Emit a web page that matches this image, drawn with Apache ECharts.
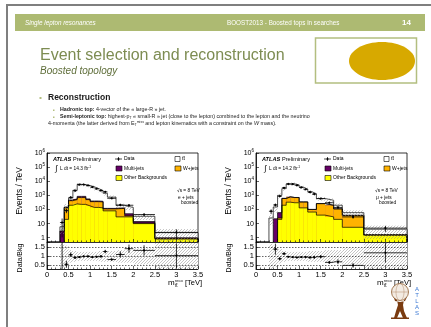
<!DOCTYPE html>
<html>
<head>
<meta charset="utf-8">
<script src="https://cdn.jsdelivr.net/npm/echarts@6/dist/echarts.min.js"></script>
<style>
html,body{margin:0;padding:0;background:#fff;}
#c{width:431px;height:327px;}
</style>
</head>
<body>
<div id="c"></div>
<script>
// Reconstructed m_tt bin edges (TeV)
const binEdges = [0.3, 0.4, 0.5, 0.6, 0.7, 0.8, 0.9, 1.0, 1.1, 1.2, 1.3, 1.4, 1.6, 1.8, 2.0, 2.5, 3.5];
const xTicks = [0, 0.5, 1, 1.5, 2, 2.5, 3, 3.5];
const ratioTicks = [0.5, 1, 1.5];

// e + jets, boosted (Events / TeV)
const eOther    = [0, 20, 200, 250, 230, 230, 180, 140, 140, 130, 80, 80, 30, 30, 10, 0.8];
const eWjets    = [0, 110, 220, 250, 470, 470, 320, 220, 220, 210, 30, 30, 90, 6, 1, 0.1];
const eMultijet = [3, 10, 50, 60, 150, 150, 60, 40, 40, 40, 10, 10, 10, 14, 3, 0.1];
const eTtbar    = [3, 10, 180, 1740, 5150, 4950, 4440, 3600, 2600, 1820, 1280, 630, 60, 90, 19, 1.3];
const eData     = [12, 84, 710, 2140, 5760, 5800, 5000, 3840, 2940, 2200, 1780, 620, 210, 200, 44, 2.4];
const eSyst     = [0.7, 0.6, 0.35, 0.3, 0.25, 0.25, 0.25, 0.25, 0.25, 0.3, 0.3, 0.3, 0.35, 0.35, 0.45, 0.8];

// mu + jets, boosted (Events / TeV)
const mOther    = [0, 0, 20, 200, 330, 300, 300, 130, 130, 66, 66, 40, 30, 20, 5.5, 1.5];
const mWjets    = [0, 0, 5, 400, 450, 400, 400, 210, 210, 34, 34, 220, 170, 90, 32.5, 0.1];
const mMultijet = [0, 22, 35, 20, 20, 10, 10, 5, 5, 2, 2, 2, 2, 2, 1, 0.05];
const mTtbar    = [25, 128, 940, 2380, 5700, 5790, 4790, 3455, 2455, 1698, 1198, 338, 248, 88, 21, 2.35];
const mData     = [75, 210, 870, 3450, 6370, 6240, 5170, 3650, 2690, 1690, 1235, 590, 300, 140, 30, 4.8];
const mSyst     = [0.7, 0.6, 0.4, 0.3, 0.25, 0.25, 0.25, 0.25, 0.25, 0.3, 0.3, 0.3, 0.35, 0.35, 0.45, 0.8];

const FONT = 'Liberation Sans';
const Y_FLOOR = 0.5;
const R_MIN = 0.3, R_MAX = 1.8;
const COL = { other: '#ffff00', wjets: '#ffb300', multijet: '#660066', ttbar: '#ffffff' };
const HATCH_STEP = 3;

function addArr(a, b) { return a.map((v, i) => v + b[i]); }

// diagonal hatch lines filling a screen rectangle
function hatchLines(X0, Y0, W, H) {
  const kids = [];
  const cStart = Math.ceil((X0 + Y0) / HATCH_STEP) * HATCH_STEP;
  for (let c = cStart; c <= X0 + W + Y0 + H; c += HATCH_STEP) {
    const xa = Math.max(X0, c - Y0 - H), xb = Math.min(X0 + W, c - Y0);
    if (xb <= xa) continue;
    kids.push({ type: 'line', shape: { x1: xa, y1: c - xa, x2: xb, y2: c - xb },
                style: { stroke: '#8a8a8a', lineWidth: 0.5 } });
  }
  return kids;
}

// step outline for a histogram layer
function stepPoints(vals) {
  const pts = [];
  let started = false;
  for (let i = 0; i < vals.length; i++) {
    if (!started) {
      if (vals[i] <= 0) continue;
      started = true;
      pts.push([binEdges[i], Y_FLOOR]);
    }
    pts.push([binEdges[i], vals[i]]);
  }
  pts.push([binEdges[binEdges.length - 1], vals[vals.length - 1]]);
  pts.push([binEdges[binEdges.length - 1], Y_FLOOR]);
  return pts;
}

// filled bin: [x0, x1, top]
function fillRender(color) {
  return function (params, api) {
    const top = api.value(2);
    if (!(top > 0)) return null;
    const a = api.coord([api.value(0), top]);
    const b = api.coord([api.value(1), Y_FLOOR]);
    return { type: 'rect', shape: { x: a[0], y: a[1], width: b[0] - a[0], height: b[1] - a[1] },
             style: { fill: color, stroke: null } };
  };
}

// uncertainty band: [x0, x1, lo, hi]
function bandRender(params, api) {
  const a = api.coord([api.value(0), api.value(3)]);
  const b = api.coord([api.value(1), api.value(2)]);
  return { type: 'group', children: hatchLines(a[0], a[1], b[0] - a[0], b[1] - a[1]) };
}

// opaque panel background for the ratio pad
function padRender(params, api) {
  const a = api.coord([api.value(0), api.value(3)]);
  const b = api.coord([api.value(1), api.value(2)]);
  return { type: 'rect', shape: { x: a[0], y: a[1], width: b[0] - a[0], height: b[1] - a[1] },
           style: { fill: '#fff', stroke: null } };
}

function pointRender(params, api) {
  const xc = api.value(0), x0 = api.value(1), x1 = api.value(2);
  const v = api.value(3), lo = api.value(4), hi = api.value(5);
  const p = api.coord([xc, v]);
  const pl = api.coord([x0, v]), pr = api.coord([x1, v]);
  const pLo = api.coord([xc, lo]), pHi = api.coord([xc, hi]);
  return { type: 'group', children: [
    { type: 'line', shape: { x1: pl[0], y1: pl[1], x2: pr[0], y2: pr[1] }, style: { stroke: '#000', lineWidth: 0.8 } },
    { type: 'line', shape: { x1: pLo[0], y1: pLo[1], x2: pHi[0], y2: pHi[1] }, style: { stroke: '#000', lineWidth: 0.8 } },
    { type: 'circle', shape: { cx: p[0], cy: p[1], r: 1.1 }, style: { fill: '#000' } }
  ] };
}

function buildSeries(axTop, axRatio, other, wjets, multi, ttbar, data, syst) {
  const cOther = other;
  const cW = addArr(cOther, wjets);
  const cMJ = addArr(cW, multi);
  const cTot = addArr(cMJ, ttbar);
  const n = cTot.length;
  const layers = [
    [cTot, COL.ttbar], [cMJ, COL.multijet], [cW, COL.wjets], [cOther, COL.other]
  ];
  const out = [];
  layers.forEach(([vals, col]) => {
    out.push({
      type: 'custom', xAxisIndex: axTop, yAxisIndex: axTop, renderItem: fillRender(col), clip: true, z: 2,
      encode: { x: [0, 1], y: 2 },
      data: vals.map((v, i) => [binEdges[i], binEdges[i + 1], v])
    });
  });
  layers.forEach(([vals]) => {
    out.push({
      type: 'line', xAxisIndex: axTop, yAxisIndex: axTop, step: 'end', symbol: 'none',
      data: stepPoints(vals), clip: true, z: 2,
      lineStyle: { color: '#000', width: 0.7 }
    });
  });
  const bandTop = [], bandRatio = [], ptsTop = [], ptsRatio = [];
  for (let i = 0; i < n; i++) {
    const x0 = binEdges[i], x1 = binEdges[i + 1], xc = (x0 + x1) / 2, w = x1 - x0;
    bandTop.push([x0, x1, cTot[i] * (1 - syst[i]), cTot[i] * (1 + syst[i])]);
    bandRatio.push([x0, x1, Math.max(1 - syst[i], R_MIN), Math.min(1 + syst[i], R_MAX)]);
    const err = Math.sqrt(data[i] / w);
    ptsTop.push([xc, x0, x1, data[i], Math.max(data[i] - err, 0.01), data[i] + err]);
    const r = data[i] / cTot[i], re = err / cTot[i];
    ptsRatio.push([xc, x0, x1, r, r - re, r + re]);
  }
  out.push({ type: 'custom', xAxisIndex: axTop, yAxisIndex: axTop, renderItem: bandRender, clip: true, z: 3,
             encode: { x: [0, 1], y: [2, 3] }, data: bandTop });
  out.push({ type: 'custom', xAxisIndex: axTop, yAxisIndex: axTop, renderItem: pointRender, clip: true, z: 4,
             encode: { x: [0, 1, 2], y: [3, 4, 5] }, data: ptsTop });
  out.push({ type: 'custom', xAxisIndex: axRatio, yAxisIndex: axRatio, renderItem: padRender, clip: true, z: 2.9,
             encode: { x: [0, 1], y: [2, 3] }, data: [[0, 3.5, R_MIN, R_MAX]] });
  out.push({ type: 'custom', xAxisIndex: axRatio, yAxisIndex: axRatio, renderItem: bandRender, clip: true, z: 3,
             encode: { x: [0, 1], y: [2, 3] }, data: bandRatio });
  out.push({ type: 'custom', xAxisIndex: axRatio, yAxisIndex: axRatio, renderItem: pointRender, clip: true, z: 4,
             encode: { x: [0, 1, 2], y: [3, 4, 5] }, data: ptsRatio,
             markLine: { silent: true, symbol: 'none', label: { show: false }, animation: false,
                         lineStyle: { color: '#000', type: [1.5, 1.5], width: 0.6 },
                         data: ratioTicks.map(v => ({ yAxis: v })) } });
  return out;
}

const tickLine = { color: '#000', width: 0.6 };
function xAxisCfg(grid, labels) {
  return {
    type: 'value', gridIndex: grid, min: 0, max: 3.5, interval: 0.5, z: 6,
    axisLine: { show: true, onZero: false, lineStyle: { color: '#000', width: 0.8 } },
    axisTick: { show: true, inside: true, length: 3, lineStyle: tickLine },
    minorTick: { show: true, splitNumber: 5, length: 1.5, lineStyle: tickLine },
    splitLine: { show: false },
    axisLabel: { show: labels, color: '#000', fontFamily: FONT, fontSize: 7.5, margin: 2,
                 formatter: v => (xTicks.indexOf(v) >= 0 ? String(v) : '') }
  };
}
function yLogCfg(grid) {
  return {
    type: 'log', logBase: 10, gridIndex: grid, min: Y_FLOOR, max: 1e6, z: 6,
    axisLine: { show: true, lineStyle: { color: '#000', width: 0.8 } },
    axisTick: { show: true, inside: true, length: 3, lineStyle: tickLine },
    splitLine: { show: false },
    axisLabel: {
      color: '#000', fontFamily: FONT, fontSize: 7, margin: 2, lineHeight: 9,
      formatter: v => {
        const e = Math.round(Math.log10(v));
        if (Math.abs(Math.pow(10, e) - v) > 1e-6 * v) return '';
        if (e === 0) return '1';
        if (e === 1) return '10';
        return '10{s|' + e + '}';
      },
      rich: { s: { fontFamily: FONT, fontSize: 4.5, verticalAlign: 'top', lineHeight: 9, color: '#000' } }
    }
  };
}
function yRatioCfg(grid) {
  return {
    type: 'value', gridIndex: grid, min: R_MIN, max: R_MAX, z: 6,
    axisLine: { show: true, lineStyle: { color: '#000', width: 0.8 } },
    axisTick: { show: true, inside: true, length: 3, lineStyle: tickLine, customValues: ratioTicks },
    splitLine: { show: false },
    axisLabel: { color: '#000', fontFamily: FONT, fontSize: 7.5, margin: 2, customValues: ratioTicks,
                 formatter: v => String(v) }
  };
}

const gridBox = { show: true, borderColor: '#000', borderWidth: 0.8, backgroundColor: '#fff' };
const grids = [
  Object.assign({ left: 47, top: 153, width: 151, height: 89 }, gridBox),
  Object.assign({ left: 47, top: 242, width: 151, height: 27 }, gridBox),
  Object.assign({ left: 256, top: 153, width: 151, height: 89 }, gridBox),
  Object.assign({ left: 256, top: 242, width: 151, height: 27 }, gridBox)
];

// slide decoration and plot annotations
const G = [];
function txt(x, y, text, o) {
  o = o || {};
  G.push({ type: 'text', x: x, y: y, rotation: o.rot || 0, z: 10,
    style: Object.assign({ text: text, fill: o.fill || '#000', fontFamily: FONT, fontSize: o.size || 6,
      fontWeight: o.weight || 'normal', fontStyle: o.style || 'normal',
      align: o.align || 'left', verticalAlign: o.va || 'middle' }, o.rich ? { rich: o.rich } : {}) });
}
function rect(x, y, w, h, fill, stroke, lw) {
  G.push({ type: 'rect', z: 10, shape: { x: x, y: y, width: w, height: h },
           style: { fill: fill, stroke: stroke || null, lineWidth: lw || 0.6 } });
}

rect(6, 4, 425, 2, '#7f7f7f');
rect(6, 4, 2, 323, '#7f7f7f');
rect(15, 14, 410, 17, '#adba72');
txt(25, 23, 'Single lepton resonances', { fill: '#fff', size: 6.3, style: 'italic' });
txt(227, 23, 'BOOST2013 - Boosted tops in searches', { fill: '#fff', size: 6.3 });
txt(402, 22.5, '14', { fill: '#fff', size: 8, weight: 'bold' });
txt(40, 56, 'Event selection and reconstruction', { fill: '#7d8c52', size: 16 });
txt(40, 71, 'Boosted topology', { fill: '#5f6e3a', size: 10, style: 'italic' });
rect(315.5, 38, 101, 45, '#fff', '#b3be80', 1.5);
G.push({ type: 'ellipse', z: 11, shape: { cx: 382, cy: 61, rx: 33, ry: 19 }, style: { fill: '#d7a900' } });
txt(382, 51, 'BOOSTED', { fill: '#fff', size: 3.5, weight: 'bold', align: 'center' });

rect(39.5, 97, 2, 2, '#b3be80');
txt(48, 98, 'Reconstruction', { fill: '#1a1a1a', size: 8.5, weight: 'bold' });
const lineRich = {
  b: { fontFamily: FONT, fontSize: 5.3, fontWeight: 'bold', fill: '#222' },
  sub: { fontFamily: FONT, fontSize: 3.5, verticalAlign: 'bottom', lineHeight: 7, fill: '#222' },
  sup: { fontFamily: FONT, fontSize: 3.5, verticalAlign: 'top', lineHeight: 7, fill: '#222' },
  i: { fontFamily: FONT, fontSize: 5.3, fontStyle: 'italic', fill: '#222' }
};
rect(53, 109.5, 1.5, 1.5, '#b3be80');
txt(60, 110, '{b|Hadronic top:} 4-vector of the \u00ab large-R \u00bb jet.', { fill: '#222', size: 5.3, rich: lineRich });
rect(53, 116.5, 1.5, 1.5, '#b3be80');
txt(60, 117, '{b|Semi-leptonic top:} highest-p{sub|T} \u00ab small-R \u00bb jet (close to the lepton) combined to the lepton and the neutrino',
    { fill: '#222', size: 5.3, rich: lineRich });
txt(48, 123.5, '4-momenta (the latter derived from E{sub|T}{sup|miss} and lepton kinematics with a constraint on the {i|W} mass).',
    { fill: '#222', size: 5.3, rich: lineRich });

// per-panel annotations
function panelText(ox, lumi, channel, sx) {
  txt(ox + 53, 159, 'ATLAS', { size: 5.6, weight: 'bold', style: 'italic' });
  txt(ox + 73, 159, 'Preliminary', { size: 5.6 });
  txt(ox + 55, 169, '\u222b', { size: 8 });
  txt(ox + 60, 168.5, 'L dt = ' + lumi + ' fb{s|-1}', { size: 4.8,
      rich: { s: { fontFamily: FONT, fontSize: 3.2, verticalAlign: 'top', lineHeight: 6 } } });
  // legend
  G.push({ type: 'line', z: 10, shape: { x1: ox + 115, y1: 159, x2: ox + 122, y2: 159 }, style: { stroke: '#000', lineWidth: 0.7 } });
  G.push({ type: 'line', z: 10, shape: { x1: ox + 118.5, y1: 157, x2: ox + 118.5, y2: 161 }, style: { stroke: '#000', lineWidth: 0.7 } });
  G.push({ type: 'circle', z: 10, shape: { cx: ox + 118.5, cy: 159, r: 1 }, style: { fill: '#000' } });
  txt(ox + 124, 159, 'Data', { size: 5 });
  rect(ox + 175, 156.5, 5, 5, '#fff', '#000', 0.6);
  txt(ox + 182, 159, 't\u0074\u0304', { size: 5 });
  rect(ox + 116, 166, 6, 5, COL.multijet, '#000', 0.6);
  txt(ox + 124, 168.5, 'Multi-jets', { size: 5 });
  rect(ox + 175, 166, 6, 5, COL.wjets, '#000', 0.6);
  txt(ox + 183, 168.5, 'W+jets', { size: 5 });
  rect(ox + 116, 175.5, 6, 5, COL.other, '#000', 0.6);
  txt(ox + 124, 178, 'Other Backgrounds', { size: 5 });
  txt(ox + sx, 190.5, '\u221as = 8 TeV', { size: 4.8 });
  txt(ox + sx + 1, 197.5, channel, { size: 4.8 });
  txt(ox + sx + 4, 203, 'boosted', { size: 4.8 });
  // axis titles
  txt(ox + 20, 191, 'Events / TeV', { size: 8.5, rot: Math.PI / 2, align: 'center' });
  txt(ox + 20, 258, 'Data/Bkg', { size: 7, rot: Math.PI / 2, align: 'center' });
  txt(ox + 168, 283, 'm', { size: 8 });
  txt(ox + 175, 280.5, 'reco', { size: 4 });
  txt(ox + 175, 286, 't\u0074\u0304', { size: 4.5 });
  txt(ox + 185, 283, '[TeV]', { size: 7.5 });
}
panelText(0, '14.3', 'e + jets', 177);
panelText(209, '14.2', '\u03bc + jets', 166);

// ATLAS logo (globe bearer)
G.push({ type: 'circle', z: 12, shape: { cx: 400, cy: 292, r: 8.5 }, style: { fill: '#f3ebe2', stroke: '#8b5a2b', lineWidth: 0.8 } });
G.push({ type: 'ellipse', z: 12, shape: { cx: 400, cy: 292, rx: 4, ry: 8.5 }, style: { fill: null, stroke: '#b08a6a', lineWidth: 0.5 } });
G.push({ type: 'line', z: 12, shape: { x1: 391.5, y1: 292, x2: 408.5, y2: 292 }, style: { stroke: '#b08a6a', lineWidth: 0.5 } });
G.push({ type: 'polygon', z: 12, shape: { points: [[394, 298], [397, 300], [398, 305], [396, 311], [394, 318], [397, 318], [400, 311], [403, 318], [407, 318], [404, 311], [403, 305], [404, 300], [407, 297], [405, 301], [400, 302], [395, 301]] },
         style: { fill: '#7a3b10' } });
G.push({ type: 'rect', z: 12, shape: { x: 391, y: 317.5, width: 18, height: 1.5 }, style: { fill: '#7a3b10' } });
['A', 'T', 'L', 'A', 'S'].forEach((ch, i) => txt(417, 289 + i * 6.2, ch, { size: 6, fill: '#3a78d4', align: 'center' }));

const option = {
  backgroundColor: '#fff',
  animation: false,
  grid: grids,
  xAxis: [xAxisCfg(0, false), xAxisCfg(1, true), xAxisCfg(2, false), xAxisCfg(3, true)],
  yAxis: [yLogCfg(0), yRatioCfg(1), yLogCfg(2), yRatioCfg(3)],
  series: [].concat(
    buildSeries(0, 1, eOther, eWjets, eMultijet, eTtbar, eData, eSyst),
    buildSeries(2, 3, mOther, mWjets, mMultijet, mTtbar, mData, mSyst)
  ),
  graphic: { elements: G }
};

const chart = echarts.init(document.getElementById('c'), null, { renderer: 'canvas', width: 431, height: 327 });
chart.setOption(option);
</script>
</body>
</html>
